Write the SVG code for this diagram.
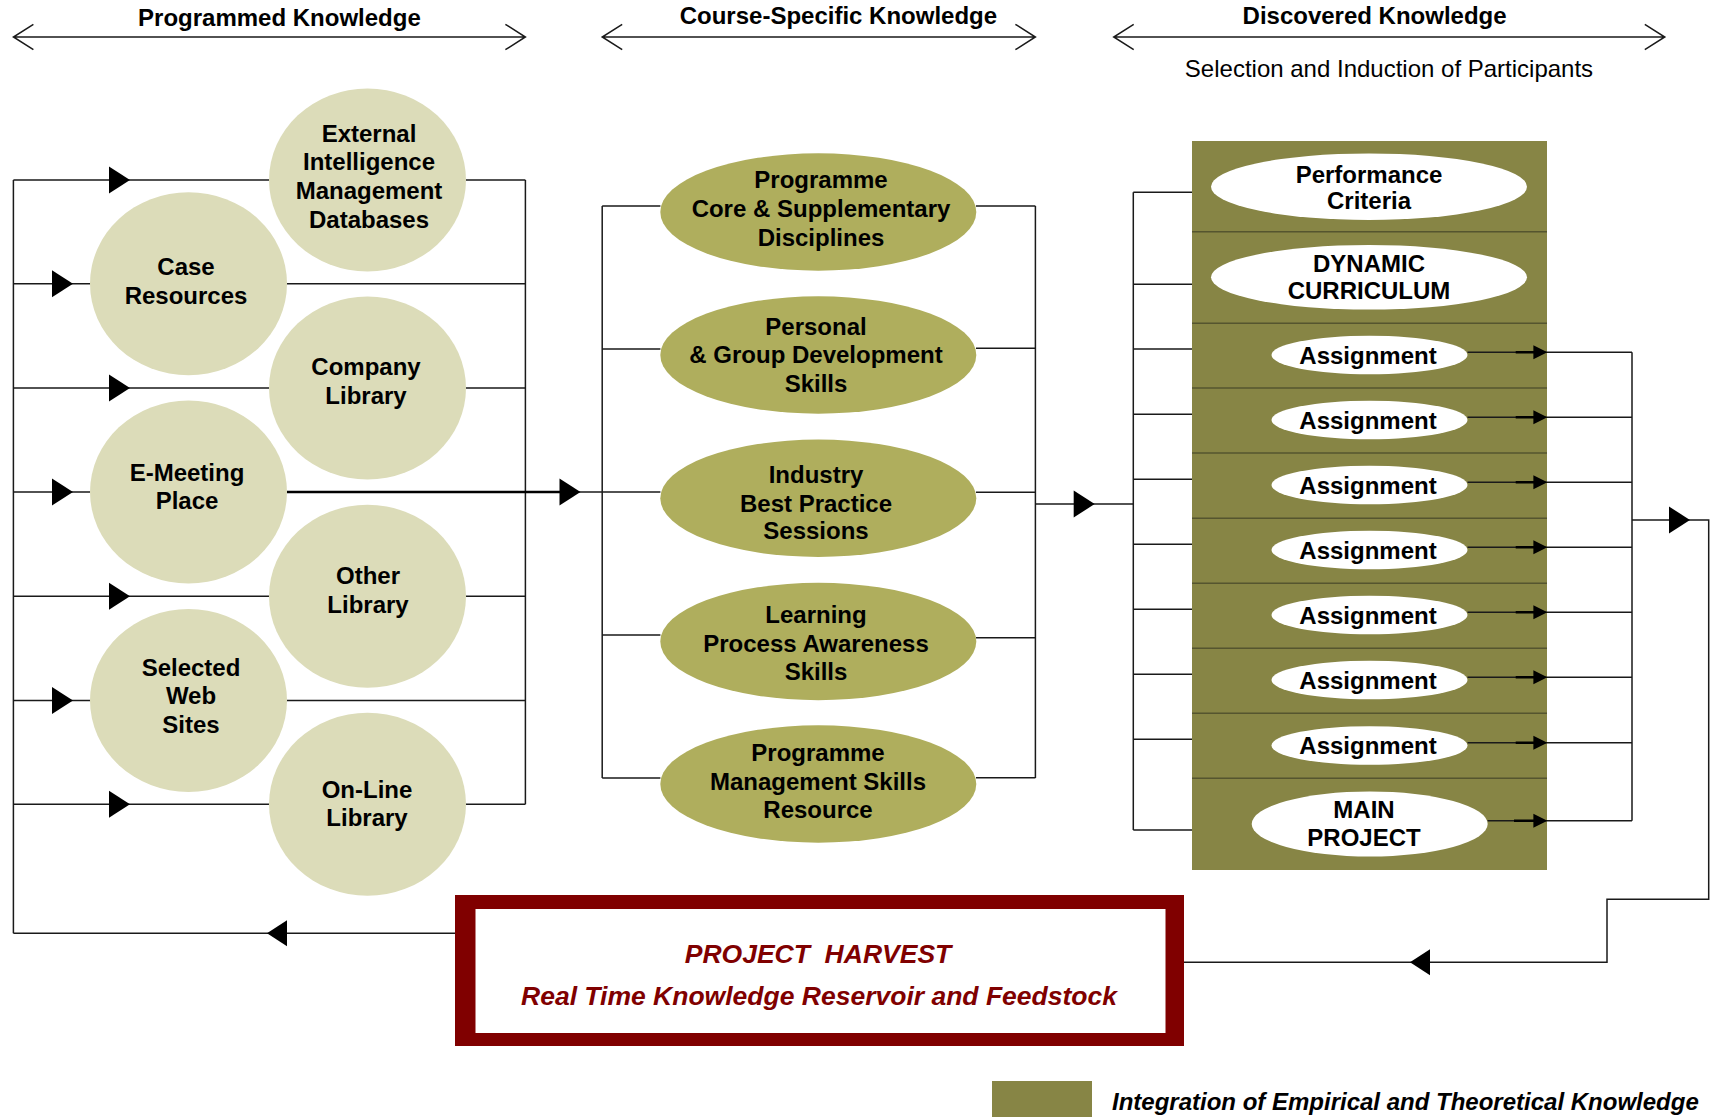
<svg xmlns="http://www.w3.org/2000/svg" width="1715" height="1117" viewBox="0 0 1715 1117">
<style>
.ln{stroke:#1a1a1a;stroke-width:1.5;fill:none}
.thk{stroke:#000;stroke-width:2.6;fill:none}
.sep{stroke:#55552f;stroke-width:1.5}
.lt{fill:#dcdcb9}
.mid{fill:#afae5d}
.wh{fill:#fff}
.blk{fill:#878545}
.ah{fill:#000}
.t{font-family:"Liberation Sans",Arial,sans-serif;font-weight:bold;font-size:24px;text-anchor:middle;fill:#000}
.h{font-family:"Liberation Sans",Arial,sans-serif;font-weight:bold;font-size:24px;text-anchor:middle;fill:#000}
.s{font-family:"Liberation Sans",Arial,sans-serif;font-size:24px;text-anchor:middle;fill:#000}
.r{font-family:"Liberation Sans",Arial,sans-serif;font-weight:bold;font-style:italic;font-size:26.5px;text-anchor:middle;fill:#800000;white-space:pre}
.lg{font-family:"Liberation Sans",Arial,sans-serif;font-weight:bold;font-style:italic;font-size:24px;fill:#000}
</style>
<defs>
<path id="tr" d="M0,-13.5 L21,0 L0,13.5 Z"/>
<path id="tl" d="M0,-13 L-20,0 L0,13 Z"/>
<path id="ts" d="M0,-7 L14,0 L0,7 Z"/>
</defs>

<g id="headers">
<text class="h" x="279.4" y="26">Programmed Knowledge</text>
<path class="ln" d="M13.4,37 H525.4 M33.4,24.3 L13.4,37 L33.4,49.7 M505.4,24.3 L525.4,37 L505.4,49.7"/>
<text class="h" x="838.4" y="23.5">Course-Specific Knowledge</text>
<path class="ln" d="M602.2,37 H1035.4 M622.2,24.3 L602.2,37 L622.2,49.7 M1015.4,24.3 L1035.4,37 L1015.4,49.7"/>
<text class="h" x="1374.6" y="24">Discovered Knowledge</text>
<path class="ln" d="M1113.7,37 H1664.8 M1133.7,24.3 L1113.7,37 L1133.7,49.7 M1644.8,24.3 L1664.8,37 L1644.8,49.7"/>
<text class="s" x="1389" y="77.3">Selection and Induction of Participants</text>
</g>

<g id="discovered-block">
<rect class="blk" x="1192" y="141" width="355" height="729"/>
<path class="sep" d="M1192,231.7 H1547 M1192,323.3 H1547 M1192,388 H1547 M1192,453 H1547 M1192,518.3 H1547 M1192,583.3 H1547 M1192,648.3 H1547 M1192,713.3 H1547 M1192,778.3 H1547"/>
</g>

<g id="connectors">
<!-- left loop -->
<path class="ln" d="M13.4,180 V933.3 M525.4,180 V804.3"/>
<path class="ln" d="M13.4,180 H269 M466,180 H525.4 M13.4,388 H269 M466,388 H525.4 M13.4,596.3 H269 M466,596.3 H525.4 M13.4,804.3 H269 M466,804.3 H525.4"/>
<path class="ln" d="M13.4,283.7 H90 M287,283.7 H525.4 M13.4,492 H90 M13.4,700.5 H90 M287,700.5 H525.4"/>
<use href="#tr" x="109" y="180" class="ah"/>
<use href="#tr" x="109" y="388" class="ah"/>
<use href="#tr" x="109" y="596.3" class="ah"/>
<use href="#tr" x="109" y="804.3" class="ah"/>
<use href="#tr" x="52" y="283.7" class="ah"/>
<use href="#tr" x="52" y="492" class="ah"/>
<use href="#tr" x="52" y="700.5" class="ah"/>
<path class="thk" d="M287,492 H560"/>
<path class="ln" d="M575,492 H602.2"/>
<use href="#tr" x="559.5" y="492" class="ah"/>
<!-- middle brackets -->
<path class="ln" d="M602.2,206 V778 M1035.4,206 V778"/>
<path class="ln" d="M602.2,206 H660.4 M602.2,349 H660.4 M602.2,492 H660.4 M602.2,635 H660.4 M602.2,778 H660.4"/>
<path class="ln" d="M976,206 H1035.4 M976,348.3 H1035.4 M976,492.3 H1035.4 M976,637.7 H1035.4 M976,777.7 H1035.4"/>
<path class="ln" d="M1035.4,504 H1133.3"/>
<use href="#tr" x="1073.7" y="504" class="ah"/>
<!-- right column left bracket -->
<path class="ln" d="M1133.3,192.3 V830 M1133.3,192.3 H1192 M1133.3,284.3 H1192 M1133.3,349 H1192 M1133.3,414.3 H1192 M1133.3,479.3 H1192 M1133.3,544.3 H1192 M1133.3,609.3 H1192 M1133.3,674.3 H1192 M1133.3,739.3 H1192 M1133.3,830 H1192"/>
<!-- assignment outputs -->
<path class="ln" d="M1467.5,352.3 H1632 M1467.5,417.3 H1632 M1467.5,482.3 H1632 M1467.5,547.3 H1632 M1467.5,612.3 H1632 M1467.5,677.3 H1632 M1467.5,742.7 H1632 M1487.5,820.7 H1632 M1632,352.3 V820.7"/>
<path class="thk" d="M1515.7,352.3 H1535 M1515.7,417.3 H1535 M1515.7,482.3 H1535 M1515.7,547.3 H1535 M1515.7,612.3 H1535 M1515.7,677.3 H1535 M1515.7,742.7 H1535 M1514,820.7 H1535"/>
<use href="#ts" x="1533.4" y="352.3" class="ah"/>
<use href="#ts" x="1533.4" y="417.3" class="ah"/>
<use href="#ts" x="1533.4" y="482.3" class="ah"/>
<use href="#ts" x="1533.4" y="547.3" class="ah"/>
<use href="#ts" x="1533.4" y="612.3" class="ah"/>
<use href="#ts" x="1533.4" y="677.3" class="ah"/>
<use href="#ts" x="1533.4" y="742.7" class="ah"/>
<use href="#ts" x="1533.4" y="820.7" class="ah"/>
<!-- return loop -->
<path class="ln" d="M1632,520 H1708.7 V899.3 H1607 V962.3 H1184"/>
<use href="#tr" x="1669" y="520" class="ah"/>
<use href="#tl" x="1430" y="962.3" class="ah"/>
<path class="ln" d="M455,933.3 H13.4"/>
<use href="#tl" x="287" y="933.3" class="ah"/>
</g>

<g id="external-intelligence">
<ellipse class="lt" cx="367.5" cy="180" rx="98.5" ry="91.5"/>
<text class="t" x="369" y="141.7">External</text>
<text class="t" x="369" y="170">Intelligence</text>
<text class="t" x="369" y="199">Management</text>
<text class="t" x="369" y="227.7">Databases</text>
</g>
<g id="case-resources">
<ellipse class="lt" cx="188.5" cy="283.7" rx="98.5" ry="91.5"/>
<text class="t" x="186" y="275">Case</text>
<text class="t" x="186" y="304">Resources</text>
</g>
<g id="company-library">
<ellipse class="lt" cx="367.5" cy="388" rx="98.5" ry="91.5"/>
<text class="t" x="366" y="375">Company</text>
<text class="t" x="366" y="404">Library</text>
</g>
<g id="e-meeting-place">
<ellipse class="lt" cx="188.5" cy="492" rx="98.5" ry="91.5"/>
<text class="t" x="187" y="481">E-Meeting</text>
<text class="t" x="187" y="509.3">Place</text>
</g>
<g id="other-library">
<ellipse class="lt" cx="367.5" cy="596.3" rx="98.5" ry="91.5"/>
<text class="t" x="368" y="584.3">Other</text>
<text class="t" x="368" y="613.3">Library</text>
</g>
<g id="selected-web-sites">
<ellipse class="lt" cx="188.5" cy="700.5" rx="98.5" ry="91.5"/>
<text class="t" x="191" y="676">Selected</text>
<text class="t" x="191" y="704.3">Web</text>
<text class="t" x="191" y="733.3">Sites</text>
</g>
<g id="on-line-library">
<ellipse class="lt" cx="367.5" cy="804.3" rx="98.5" ry="91.5"/>
<text class="t" x="367" y="797.7">On-Line</text>
<text class="t" x="367" y="826">Library</text>
</g>

<g id="programme-core">
<ellipse class="mid" cx="818.3" cy="212" rx="158" ry="58.7"/>
<text class="t" x="821" y="188.3">Programme</text>
<text class="t" x="821" y="216.7">Core &amp; Supplementary</text>
<text class="t" x="821" y="245.7">Disciplines</text>
</g>
<g id="personal-group">
<ellipse class="mid" cx="818.3" cy="355" rx="158" ry="58.7"/>
<text class="t" x="816" y="335">Personal</text>
<text class="t" x="816" y="363.3">&amp; Group Development</text>
<text class="t" x="816" y="391.7">Skills</text>
</g>
<g id="industry-best-practice">
<ellipse class="mid" cx="818.3" cy="498.3" rx="158" ry="58.7"/>
<text class="t" x="816" y="483.3">Industry</text>
<text class="t" x="816" y="511.7">Best Practice</text>
<text class="t" x="816" y="539.3">Sessions</text>
</g>
<g id="learning-process">
<ellipse class="mid" cx="818.3" cy="641.5" rx="158" ry="58.7"/>
<text class="t" x="816" y="623.3">Learning</text>
<text class="t" x="816" y="651.7">Process Awareness</text>
<text class="t" x="816" y="680">Skills</text>
</g>
<g id="programme-management">
<ellipse class="mid" cx="818.3" cy="784" rx="158" ry="58.7"/>
<text class="t" x="818" y="761">Programme</text>
<text class="t" x="818" y="790">Management Skills</text>
<text class="t" x="818" y="818">Resource</text>
</g>

<g id="performance-criteria">
<ellipse class="wh" cx="1369" cy="186.7" rx="158" ry="33.3"/>
<text class="t" x="1369" y="183.3">Performance</text>
<text class="t" x="1369" y="209.3">Criteria</text>
</g>
<g id="dynamic-curriculum">
<ellipse class="wh" cx="1369" cy="277.3" rx="158" ry="32.3"/>
<text class="t" x="1369" y="271.7">DYNAMIC</text>
<text class="t" x="1369" y="299">CURRICULUM</text>
</g>
<g id="assignment-1"><ellipse class="wh" cx="1369.5" cy="355" rx="98" ry="19.3"/><text class="t" x="1368" y="364">Assignment</text></g>
<g id="assignment-2"><ellipse class="wh" cx="1369.5" cy="420" rx="98" ry="19.3"/><text class="t" x="1368" y="429">Assignment</text></g>
<g id="assignment-3"><ellipse class="wh" cx="1369.5" cy="485" rx="98" ry="19.3"/><text class="t" x="1368" y="494">Assignment</text></g>
<g id="assignment-4"><ellipse class="wh" cx="1369.5" cy="550" rx="98" ry="19.3"/><text class="t" x="1368" y="559">Assignment</text></g>
<g id="assignment-5"><ellipse class="wh" cx="1369.5" cy="615" rx="98" ry="19.3"/><text class="t" x="1368" y="624">Assignment</text></g>
<g id="assignment-6"><ellipse class="wh" cx="1369.5" cy="680" rx="98" ry="19.3"/><text class="t" x="1368" y="689">Assignment</text></g>
<g id="assignment-7"><ellipse class="wh" cx="1369.5" cy="745.5" rx="98" ry="19.3"/><text class="t" x="1368" y="753.5">Assignment</text></g>
<g id="main-project">
<ellipse class="wh" cx="1369.7" cy="824" rx="118" ry="32.5"/>
<text class="t" x="1364" y="818.3">MAIN</text>
<text class="t" x="1364" y="845.7">PROJECT</text>
</g>

<g id="project-harvest">
<rect x="455" y="895" width="729" height="151" fill="#800000"/>
<rect x="475.5" y="909" width="690" height="124" fill="#fff"/>
<text class="r" x="818" y="963.3">PROJECT  HARVEST</text>
<text class="r" x="819" y="1005">Real Time Knowledge Reservoir and Feedstock</text>
</g>

<g id="legend">
<rect class="blk" x="992" y="1081" width="100" height="36"/>
<text class="lg" x="1112" y="1110">Integration of Empirical and Theoretical Knowledge</text>
</g>
</svg>
